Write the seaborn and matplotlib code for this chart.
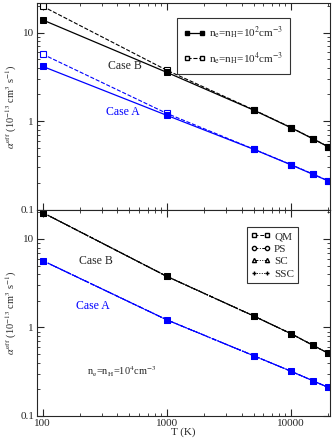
import numpy as np
import pandas as pd
import matplotlib
matplotlib.use("Agg")
import matplotlib.pyplot as plt
import matplotlib.ticker as mticker
from matplotlib.lines import Line2D
import seaborn as sns

# temperatures (K)
T = [100, 1000, 5000, 10000, 15000, 20000]

# top panel: density comparison (QM)
caseB_n2 = [13.9, 3.55, 1.33, 0.84, 0.63, 0.51]
caseB_n4 = [19.8, 3.75, 1.34, 0.845, 0.632, 0.512]
caseA_n2 = [4.15, 1.16, 0.48, 0.32, 0.25, 0.21]
caseA_n4 = [5.7, 1.22, 0.482, 0.322, 0.252, 0.211]

# bottom panel: methods at n = 1e4
methods = ["QM", "PS", "SC", "SSC"]
caseB_meth = [19.9, 3.78, 1.35, 0.85, 0.63, 0.51]
caseA_meth = [5.7, 1.22, 0.48, 0.32, 0.25, 0.21]

sns.set_style("ticks")
plt.rcParams["font.family"] = ["Liberation Serif", "DejaVu Serif"]
plt.rcParams["mathtext.fontset"] = "stix"

fig, (ax1, ax2) = plt.subplots(2, 1, figsize=(3.32, 4.43), dpi=100, sharex=True)
fig.subplots_adjust(left=0.111, right=0.994, top=0.993, bottom=0.061, hspace=0)

blue = "#0000ff"
ms = 4
dens = [r"n$_{\rm e}$=n$_{\rm H}$=10$^2$cm$^{-3}$",
        r"n$_{\rm e}$=n$_{\rm H}$=10$^4$cm$^{-3}$"]

# ---- top panel ----
for vals, col in [(caseB_n4, "black"), (caseA_n4, blue)]:
    sns.lineplot(x=T, y=vals, ax=ax1, color=col, lw=0.8, linestyle="--",
                 marker="s", markersize=ms, markerfacecolor="white",
                 markeredgecolor=col, markeredgewidth=0.8)
for vals, col in [(caseB_n2, "black"), (caseA_n2, blue)]:
    sns.lineplot(x=T, y=vals, ax=ax1, color=col, lw=0.9, linestyle="-",
                 marker="s", markersize=ms, markeredgecolor=col)

h1 = [Line2D([], [], color="black", lw=0.9, marker="s", markersize=3.5),
      Line2D([], [], color="black", lw=0.8, ls="--", marker="s", markersize=3.5,
             markerfacecolor="white")]
leg1 = ax1.legend(h1, dens, loc="upper right", bbox_to_anchor=(0.863, 0.927),
                  fontsize=8, numpoints=2, frameon=True, fancybox=False,
                  edgecolor="black", handlelength=2.0, handletextpad=0.3,
                  borderpad=0.6, labelspacing=0.8, borderaxespad=0)
leg1.get_frame().set_linewidth(0.8)
ax1.text(0.3, 0.68, "Case B", transform=ax1.transAxes, fontsize=8.5, ha="center")
ax1.text(0.295, 0.46, "Case A", transform=ax1.transAxes, fontsize=8.5, ha="center",
         color=blue)

# ---- bottom panel ----
styles = [("s", (0, (4, 2))), ("o", (0, (4, 1.5, 1, 1.5))),
          ("^", (0, (4, 1.5, 1, 1.5, 1, 1.5))), ("+", (0, (1, 1.5)))]
for vals, col in [(caseB_meth, "black"), (caseA_meth, blue)]:
    for (mk, dash), name in zip(styles, methods):
        sns.lineplot(x=T, y=vals, ax=ax2, color=col, lw=0.8, linestyle=dash,
                     marker=mk, markersize=ms, markerfacecolor=col,
                     markeredgecolor=col)

h2 = [Line2D([], [], color="black", lw=0.7, ls=d, marker=m, markersize=3,
             markerfacecolor="white") for m, d in styles]
leg2 = ax2.legend(h2, methods, loc="upper right", bbox_to_anchor=(0.891, 0.913),
                  fontsize=8, numpoints=2, frameon=True, fancybox=False,
                  edgecolor="black", handlelength=1.8, handletextpad=0.3,
                  borderpad=0.35, labelspacing=0.25, borderaxespad=0)
leg2.get_frame().set_linewidth(0.8)
ax2.text(0.2, 0.735, "Case B", transform=ax2.transAxes, fontsize=8.5, ha="center")
ax2.text(0.19, 0.52, "Case A", transform=ax2.transAxes, fontsize=8.5, ha="center",
         color=blue)
ax2.text(0.29, 0.195, dens[1], transform=ax2.transAxes, fontsize=7.5, ha="center")

for ax in (ax1, ax2):
    ax.set_xscale("log")
    ax.set_yscale("log")
    ax.set_xlim(90, 20600)
    ax.set_ylim(0.1, 21.5)
    ax.yaxis.set_major_locator(mticker.FixedLocator([0.1, 1, 10]))
    ax.yaxis.set_major_formatter(mticker.FixedFormatter(["0.1", "1", "10"]))
    ax.yaxis.set_minor_locator(mticker.LogLocator(base=10, subs=np.arange(2, 10)))
    ax.yaxis.set_minor_formatter(mticker.NullFormatter())
    ax.xaxis.set_minor_locator(mticker.LogLocator(base=10, subs=np.arange(2, 10)))
    ax.xaxis.set_minor_formatter(mticker.NullFormatter())
    ax.tick_params(which="both", direction="in", top=True, right=True,
                   labelsize=8, pad=2)
    ax.tick_params(which="major", length=5, width=0.8)
    ax.tick_params(which="minor", length=2.5, width=0.6)
    for s in ax.spines.values():
        s.set_linewidth(0.8)
    ax.set_ylabel(r"$\alpha^{\rm eff}$ (10$^{-13}$ cm$^3$ s$^{-1}$)", fontsize=7.5,
                  labelpad=1)

ax2.xaxis.set_major_locator(mticker.FixedLocator([100, 1000, 10000]))
ax2.xaxis.set_major_formatter(mticker.FixedFormatter(["100", "1000", "10000"]))
ax2.set_xlabel("T (K)", fontsize=8, labelpad=0)

fig.savefig("out.png", dpi=100)
